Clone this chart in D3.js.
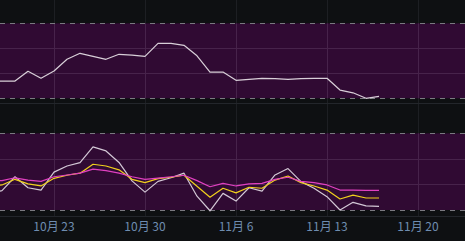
<!DOCTYPE html>
<html>
<head>
<meta charset="utf-8">
<title>Chart</title>
<script src="https://d3js.org/d3.v7.min.js"></script>
<style>
body { margin: 0; background: #0e1012; }
svg { display: block; }
.tick-label { font-family: "Noto Sans CJK SC", Roboto, sans-serif; font-size: 12px; fill: #6f8db0; }
</style>
</head>
<body>
<svg id="chart" width="465" height="241"></svg>
<script>
// dates: Oct 18 .. Nov 17, 2023 (one point per day)
var startDay = Date.UTC(2023, 9, 18);
var dayCount = 31;
var days = d3.range(dayCount).map(function (i) { return new Date(startDay + i * 864e5); });

var tickDates = [Date.UTC(2023, 9, 23), Date.UTC(2023, 9, 30), Date.UTC(2023, 10, 6),
                 Date.UTC(2023, 10, 13), Date.UTC(2023, 10, 20)].map(function (t) { return new Date(t); });

// top panel
var topSeries = [0.69, 0.69, 0.69, 1.08, 0.80, 1.09, 1.56, 1.80, 1.68, 1.56, 1.76, 1.73, 1.68,
                 2.20, 2.20, 2.12, 1.70, 1.05, 1.05, 0.72, 0.76, 0.80, 0.79, 0.76, 0.79, 0.80,
                 0.80, 0.33, 0.22, 0.00, 0.08];

// bottom panel
var bottomWhite = [0.62, 0.76, 1.30, 0.87, 0.78, 1.48, 1.72, 1.85, 2.47, 2.31, 1.86, 1.14, 0.70,
                   1.12, 1.26, 1.44, 0.54, -0.03, 0.65, 0.35, 0.87, 0.74, 1.37, 1.62, 1.11, 0.85,
                   0.52, 0.00, 0.30, 0.16, 0.14];
var bottomYellow = [0.92, 0.98, 1.20, 1.02, 0.94, 1.24, 1.36, 1.44, 1.79, 1.72, 1.57, 1.20, 1.07,
                    1.23, 1.28, 1.36, 0.93, 0.50, 0.85, 0.67, 0.89, 0.85, 1.17, 1.33, 1.07, 0.94,
                    0.78, 0.43, 0.58, 0.47, 0.47];
var bottomMagenta = [1.12, 1.15, 1.26, 1.17, 1.12, 1.30, 1.37, 1.44, 1.60, 1.54, 1.44, 1.30, 1.20,
                     1.25, 1.30, 1.36, 1.15, 0.91, 1.04, 0.94, 1.02, 1.04, 1.20, 1.28, 1.12, 1.07,
                     0.98, 0.78, 0.78, 0.77, 0.77];

var svg = d3.select("#chart");
var W = 465;

var x = d3.scaleUtc()
    .domain([tickDates[0], tickDates[4]])
    .range([54, 418]);

var bandColor = "#300a33",
    gridColor = "#47234b",
    vGridColor = "#1d1f23";

// vertical grid lines over whole plot
svg.append("g").selectAll("line")
    .data(tickDates)
  .enter().append("line")
    .attr("x1", function (d) { return Math.round(x(d)) + 0.5; })
    .attr("x2", function (d) { return Math.round(x(d)) + 0.5; })
    .attr("y1", 0).attr("y2", 217)
    .attr("stroke", vGridColor);

function panel(bandTop, bandBottom, axisY, series) {
  var y = d3.scaleLinear().domain([0, 3]).range([bandBottom, bandTop]);
  var g = svg.append("g");

  g.append("rect")
    .attr("x", 0).attr("width", W)
    .attr("y", y(3)).attr("height", y(0) - y(3))
    .attr("fill", bandColor);

  // inner grid
  g.selectAll("line.h")
      .data([1, 2])
    .enter().append("line")
      .attr("x1", 0).attr("x2", W)
      .attr("y1", function (d) { return Math.round(y(d)) + 0.5; })
      .attr("y2", function (d) { return Math.round(y(d)) + 0.5; })
      .attr("stroke", gridColor);

  g.selectAll("line.v")
      .data(tickDates)
    .enter().append("line")
      .attr("x1", function (d) { return Math.round(x(d)) + 0.5; })
      .attr("x2", function (d) { return Math.round(x(d)) + 0.5; })
      .attr("y1", y(3)).attr("y2", y(0))
      .attr("stroke", gridColor);

  // dashed band edges
  g.selectAll("line.edge")
      .data([0, 3])
    .enter().append("line")
      .attr("x1", 0).attr("x2", W)
      .attr("y1", function (d) { return Math.round(y(d)) + 0.5; })
      .attr("y2", function (d) { return Math.round(y(d)) + 0.5; })
      .attr("stroke", "#7a7a80")
      .attr("stroke-dasharray", "5,5");

  // panel bottom border
  g.append("line")
    .attr("x1", 0).attr("x2", W)
    .attr("y1", axisY + 0.5).attr("y2", axisY + 0.5)
    .attr("stroke", "#23262b");

  var line = d3.line()
    .x(function (d, i) { return x(days[i]); })
    .y(function (d) { return y(d); });

  series.forEach(function (s) {
    g.append("path")
      .datum(s.values)
      .attr("d", line)
      .attr("fill", "none")
      .attr("stroke", s.color)
      .attr("stroke-width", 1.2)
      .attr("stroke-linejoin", "round");
  });
}

panel(23.3, 98.3, 103, [
  { values: topSeries, color: "#d8cfd8" }
]);

panel(133.3, 210, 216, [
  { values: bottomWhite, color: "#d3c8d6" },
  { values: bottomYellow, color: "#f0d01c" },
  { values: bottomMagenta, color: "#e040c0" }
]);

// x axis labels
svg.append("g").selectAll("text")
    .data(tickDates)
  .enter().append("text")
    .attr("class", "tick-label")
    .attr("x", function (d) { return x(d); })
    .attr("y", 231)
    .attr("text-anchor", "middle")
    .text(function (d) { return (d.getUTCMonth() + 1) + "月 " + d.getUTCDate(); });
</script>
</body>
</html>
